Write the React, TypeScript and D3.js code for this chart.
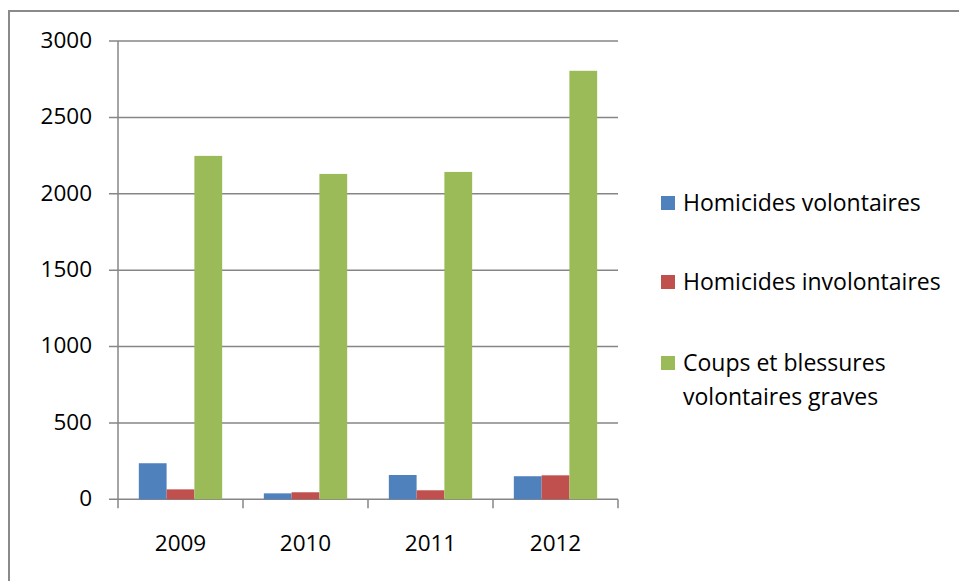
import React from "react";
import * as d3 from "d3";

const categories = ["2009", "2010", "2011", "2012"];
const seriesNames = [
  "Homicides volontaires",
  "Homicides involontaires",
  "Coups et blessures volontaires graves",
];
const homicidesVolontaires = [236, 39, 159, 151];
const homicidesInvolontaires = [65, 46, 59, 157];
const coupsBlessures = [2248, 2130, 2143, 2805];
const yTicks = [0, 500, 1000, 1500, 2000, 2500, 3000];
const colors = ["#4F81BD", "#C0504D", "#9BBB59"];
const legendLines = [
  ["Homicides volontaires"],
  ["Homicides involontaires"],
  ["Coups et blessures", "volontaires graves"],
];

const FONT = "'Open Sans', sans-serif";
const FS = 22.5;
const LFS = 23;

export default function App() {
  const W = 959;
  const H = 581;
  const left = 118;
  const right = 618;
  const top = 41;
  const bottom = 499.3;
  const series = [homicidesVolontaires, homicidesInvolontaires, coupsBlessures];

  const x = d3.scaleBand().domain(categories).range([left, right]).paddingInner(0).paddingOuter(0);
  const y = d3.scaleLinear().domain([0, 3000]).range([bottom, top]);
  const barW = x.bandwidth() / 4.5;
  const groupOffset = (x.bandwidth() - 3 * barW) / 2;

  const legendY = [203, 282, 363];

  return (
    <svg width={W} height={H} style={{ position: "absolute", left: 0, top: 0, background: "#fff" }}>
      <rect x={0} y={0} width={W} height={H} fill="#fff" />
      <rect x={9} y={11} width={W + 20} height={H + 20} fill="none" stroke="#8a8a8a" strokeWidth={2} />
      {yTicks.map((t) => (
        <g key={t}>
          <line x1={left - 9} x2={right} y1={y(t)} y2={y(t)} stroke="#868686" strokeWidth={1.5} />
          <text x={92} y={y(t) - 1} dy="0.35em" textAnchor="end" fontFamily={FONT} fontSize={FS} fill="#000">
            {t}
          </text>
        </g>
      ))}
      <line x1={left} x2={left} y1={top} y2={bottom} stroke="#868686" strokeWidth={1.5} />
      {categories.map((c, i) => (
        <g key={c}>
          <line x1={x(c)!} x2={x(c)!} y1={bottom} y2={bottom + 9} stroke="#868686" strokeWidth={1.5} />
          {i === categories.length - 1 && (
            <line x1={right} x2={right} y1={bottom} y2={bottom + 9} stroke="#868686" strokeWidth={1.5} />
          )}
          <text x={x(c)! + x.bandwidth() / 2} y={543} dy="0.35em" textAnchor="middle" fontFamily={FONT} fontSize={FS} fill="#000">
            {c}
          </text>
        </g>
      ))}
      {series.map((vals, s) =>
        vals.map((v, i) => (
          <rect
            key={`${s}-${i}`}
            x={x(categories[i])! + groupOffset + s * barW}
            y={y(v)}
            width={barW}
            height={y(0) - y(v)}
            fill={colors[s]}
          />
        ))
      )}
      {seriesNames.map((name, s) => (
        <g key={name}>
          <rect x={661} y={legendY[s] - 7} width={14} height={14} fill={colors[s]} />
          {legendLines[s].map((ln, k) => (
            <text key={k} x={683} y={legendY[s] + k * 34} dy="0.35em" fontFamily={FONT} fontSize={LFS} fill="#000">
              {ln}
            </text>
          ))}
        </g>
      ))}
    </svg>
  );
}
